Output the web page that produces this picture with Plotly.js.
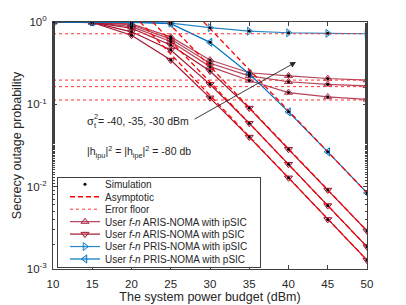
<!DOCTYPE html>
<html>
<head>
<meta charset="utf-8">
<script src="https://cdn.plot.ly/plotly-3.0.1.min.js"></script>
<style>
html,body{margin:0;padding:0;background:#fff;}
#chart{width:406px;height:305px;}
</style>
</head>
<body>
<div id="chart"></div>
<script>
// ---- data ----
var powerBudget = [10, 15, 20, 25, 30, 35, 40, 45, 50];

// ARIS-NOMA with ipSIC (three sigma_t^2 values)
var arisIpsic1 = [1, 0.995, 0.95, 0.66, 0.345, 0.242, 0.222, 0.206, 0.197];
var arisIpsic2 = [1, 0.993, 0.92, 0.62, 0.315, 0.222, 0.188, 0.175, 0.168];
var arisIpsic3 = [1, 0.990, 0.88, 0.58, 0.287, 0.195, 0.139, 0.123, 0.115];

// ARIS-NOMA with pSIC
var arisPsic1 = [1, 0.990, 0.84, 0.525, 0.254, 0.090, 0.0284, 0.0091, 0.0029];
var arisPsic2 = [1, 0.990, 0.76, 0.457, 0.175, 0.059, 0.0187, 0.0059, 0.00186];
var arisPsic3 = [1, 0.985, 0.69, 0.345, 0.120, 0.040, 0.0128, 0.0040, 0.00128];

// PRIS-NOMA
var prisIpsic = [1, 1, 0.995, 0.97, 0.853, 0.775, 0.74, 0.728, 0.72];
var prisPsic  = [1, 1, 0.990, 0.955, 0.566, 0.235, 0.081, 0.0265, 0.0084];

// Asymptotic lines (pSIC): [x where it leaves the top, 50]
var asymX_A = [24.6, 50], asymY_A = [1, 0.0029];
var asymX_B = [22.7, 50], asymY_B = [1, 0.00186];
var asymX_C = [21.1, 50], asymY_C = [1, 0.00128];
var asymX_P = [29.2, 50], asymY_P = [1, 0.0084];

// Error floors (ipSIC)
var floorX = [10, 50];
var floorVals = [0.72, 0.197, 0.164, 0.113];

var yTickVals = [0.001, 0.01, 0.1, 1];
var yTickText = ['10<sup>-3</sup>', '10<sup>-2</sup>', '10<sup>-1</sup>', '10<sup>0</sup>'];
var xTickVals = [10, 15, 20, 25, 30, 35, 40, 45, 50];

// ---- styles ----
var red = '#A2142F', blue = '#0072BD';
var traces = [];

function curve(y, name, color, symbol, fill, rank, show) {
  return {
    x: powerBudget, y: y, type: 'scatter', mode: 'lines+markers', name: name,
    line: {color: color, width: 1.2},
    marker: {symbol: symbol, size: 7, color: fill, line: {color: color, width: 1}},
    showlegend: show, legendrank: rank
  };
}
var redFill = 'rgba(200,90,120,0.35)', blueFill = 'rgba(80,160,220,0.3)';
var nAI = 'User <i>f</i>-<i>n</i> ARIS-NOMA with ipSIC';
var nAP = 'User <i>f</i>-<i>n</i> ARIS-NOMA with pSIC';
var nPI = 'User <i>f</i>-<i>n</i> PRIS-NOMA with ipSIC';
var nPP = 'User <i>f</i>-<i>n</i> PRIS-NOMA with pSIC';

traces.push(curve(arisIpsic1, nAI, 'rgba(162,20,47,0.8)', 'triangle-up', redFill, 4, true));
traces.push(curve(arisIpsic2, nAI, 'rgba(162,20,47,0.8)', 'triangle-up', redFill, 4, false));
traces.push(curve(arisIpsic3, nAI, 'rgba(162,20,47,0.8)', 'triangle-up', redFill, 4, false));
traces.push(curve(arisPsic1, nAP, red, 'triangle-down', redFill, 5, true));
traces.push(curve(arisPsic2, nAP, red, 'triangle-down', redFill, 5, false));
traces.push(curve(arisPsic3, nAP, red, 'triangle-down', redFill, 5, false));
traces.push(curve(prisIpsic, nPI, 'rgba(0,114,189,0.85)', 'triangle-right', blueFill, 6, true));
traces.push(curve(prisPsic, nPP, blue, 'triangle-left', blueFill, 7, true));

// asymptotic
[[asymX_A, asymY_A], [asymX_B, asymY_B], [asymX_C, asymY_C], [asymX_P, asymY_P]].forEach(function(a, i) {
  traces.push({x: a[0], y: a[1], type: 'scatter', mode: 'lines', name: 'Asymptotic',
    line: {color: '#FF0000', width: 1.3, dash: '5px,3px'}, showlegend: i === 0, legendrank: 2});
});
// error floors
floorVals.forEach(function(v, i) {
  traces.push({x: floorX, y: [v, v], type: 'scatter', mode: 'lines', name: 'Error floor',
    line: {color: '#FF3030', width: 1, dash: 'dot'}, showlegend: i === 0, legendrank: 3});
});
// simulation dots
[arisIpsic1, arisIpsic2, arisIpsic3, arisPsic1, arisPsic2, arisPsic3, prisIpsic, prisPsic].forEach(function(y, i) {
  traces.push({x: powerBudget, y: y, type: 'scatter', mode: 'markers', name: 'Simulation',
    marker: {color: '#000', size: 3}, showlegend: i === 0, legendrank: 1});
});

// annotation positions in paper units (plot area 53..367 x 22..269 px)
function px(x) { return (x - 53) / 314; }
function py(y) { return (269 - y) / 247; }

var axisCol = '#404040';
var layout = {
  width: 406, height: 305,
  margin: {l: 53, r: 39, t: 22, b: 36, autoexpand: false},
  paper_bgcolor: '#fff', plot_bgcolor: '#fff',
  font: {family: '"Liberation Sans", Arial, sans-serif', size: 11, color: '#262626'},
  showlegend: true,
  xaxis: {
    range: [10, 50], tickvals: xTickVals, ticks: 'inside', ticklen: 4, tickcolor: axisCol,
    showline: true, linecolor: axisCol, linewidth: 1, mirror: 'ticks', showgrid: false, zeroline: false,
    tickfont: {size: 11.5}, ticklabelstandoff: 4, automargin: false,
    title: {text: 'The system power budget (dBm)', font: {size: 12.5}, standoff: 1}
  },
  yaxis: {
    type: 'log', range: [-3, 0], tickvals: yTickVals, ticktext: yTickText,
    ticks: 'inside', ticklen: 4, tickcolor: axisCol,
    minor: {ticks: 'inside', ticklen: 2, tickcolor: axisCol, showgrid: false},
    showline: true, linecolor: axisCol, linewidth: 1, mirror: 'ticks', showgrid: false, zeroline: false,
    tickfont: {size: 11.5}, ticklabelstandoff: 3, automargin: false,
    title: {text: 'Secrecy outage probability', font: {size: 12.5}, standoff: 2}
  },
  legend: {
    x: 0.0127, y: 0.3725, xanchor: 'left', yanchor: 'top',
    bgcolor: '#fff', bordercolor: axisCol, borderwidth: 1,
    font: {size: 10, color: '#262626'}, traceorder: 'normal'
  },
  annotations: [
    {xref: 'paper', yref: 'paper', x: px(85), y: py(121), xanchor: 'left', yanchor: 'middle',
     text: 'σ', showarrow: false, font: {size: 11}},
    {xref: 'paper', yref: 'paper', x: px(91.5), y: py(116), xanchor: 'left', yanchor: 'middle',
     text: '2', showarrow: false, font: {size: 7.5}},
    {xref: 'paper', yref: 'paper', x: px(91.5), y: py(125.5), xanchor: 'left', yanchor: 'middle',
     text: 't', showarrow: false, font: {size: 7.5}},
    {xref: 'paper', yref: 'paper', x: px(96), y: py(121), xanchor: 'left', yanchor: 'middle',
     text: '= -40, -35, -30 dBm', showarrow: false, font: {size: 10.5}},
    {xref: 'paper', yref: 'paper', x: px(85), y: py(152), xanchor: 'left', yanchor: 'middle',
     text: '|h<sub>ipu</sub>|<sup>2</sup> = |h<sub>ipe</sub>|<sup>2</sup> = -80 db', showarrow: false, font: {size: 10.5}},
    {xref: 'paper', yref: 'paper', x: px(296), y: py(62), axref: 'paper', ayref: 'paper', ax: px(193), ay: py(120),
     text: '', showarrow: true, arrowhead: 2, arrowsize: 1.3, arrowwidth: 0.9, arrowcolor: '#262626'}
  ]
};

Plotly.newPlot('chart', traces, layout, {displayModeBar: false, staticPlot: true}).then(function(gd) {
  var leg = gd.querySelector('.legend');
  if (!leg) return;
  var items = leg.querySelectorAll('.traces');
  var y0 = 7.3, dy = 12.45, dx = 8;
  items.forEach(function(g, i) {
    g.setAttribute('transform', 'translate(' + dx + ',' + (y0 + i * dy) + ')');
  });
  var bg = leg.querySelector('rect.bg');
  if (bg) { bg.setAttribute('height', 90); bg.setAttribute('width', 203); }
  var sb = leg.querySelector('.scrollbox');
  if (sb) {
    var cp = sb.getAttribute('clip-path');
    if (cp) {
      var m = cp.match(/#([^)"']+)/);
      if (m) {
        var el = document.getElementById(m[1]);
        if (el) { var r = el.querySelector('rect'); if (r) { r.setAttribute('width', 220); r.setAttribute('height', 100); } }
      }
    }
  }
});
</script>
</body>
</html>
